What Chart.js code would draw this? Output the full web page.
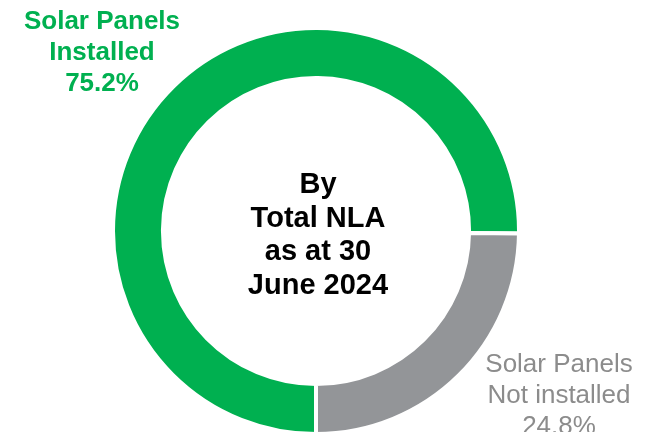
<!DOCTYPE html>
<html>
<head>
<meta charset="utf-8">
<script src="https://cdn.jsdelivr.net/npm/chart.js@4"></script>
<style>
  html, body { margin: 0; padding: 0; background: #fff; }
  canvas { display: block; }
</style>
</head>
<body>
<canvas id="nla-chart" width="650" height="432"></canvas>
<script>
// Datos del gráfico
const categories = [['Solar Panels', 'Installed'], ['Solar Panels', 'Not installed']];
const shares = [75.2, 24.8];
const colors = ['#00b050', '#939598'];
const centerLines = ['By', 'Total NLA', 'as at 30', 'June 2024'];

const FONT = '"Liberation Sans", Arial, sans-serif';

// Etiquetas de cada segmento y texto central
const labelsPlugin = {
    id: 'nlaLabels',
    afterDraw(chart) {
        const ctx = chart.ctx;
        const arc = chart.getDatasetMeta(0).data[0];
        ctx.save();
        ctx.textAlign = 'center';
        ctx.textBaseline = 'alphabetic';

        // texto central
        ctx.fillStyle = '#000';
        ctx.font = 'bold 29px ' + FONT;
        centerLines.forEach((line, i) => {
            ctx.fillText(line, arc.x + 2, 193 + i * 33.5);
        });

        // instalado (arriba a la izquierda)
        ctx.fillStyle = colors[0];
        ctx.font = 'bold 26px ' + FONT;
        const installed = categories[0].concat(shares[0].toFixed(1) + '%');
        installed.forEach((line, i) => {
            ctx.fillText(line, 102, 29 + i * 31);
        });

        // no instalado (abajo a la derecha)
        ctx.fillStyle = '#8c8c8c';
        ctx.font = '26px ' + FONT;
        const notInstalled = categories[1].concat(shares[1].toFixed(1) + '%');
        notInstalled.forEach((line, i) => {
            ctx.fillText(line, 559, 372 + i * 31);
        });
        ctx.restore();
    }
};

const ctx = document.getElementById('nla-chart').getContext('2d');
const chart = new Chart(ctx, {
    type: 'doughnut',
    data: {
        labels: categories.map(c => c.join(' ')),
        datasets: [{
            data: shares,
            backgroundColor: colors,
            borderColor: '#ffffff',
            borderWidth: 4,
            borderJoinStyle: 'miter'
        }]
    },
    options: {
        responsive: false,
        animation: false,
        rotation: 180,
        radius: 203,
        cutout: '75.4%',
        layout: { padding: { top: 30, right: 18, left: 0, bottom: 0 } },
        plugins: {
            legend: { display: false },
            tooltip: { enabled: false }
        }
    },
    plugins: [labelsPlugin]
});
</script>
</body>
</html>
